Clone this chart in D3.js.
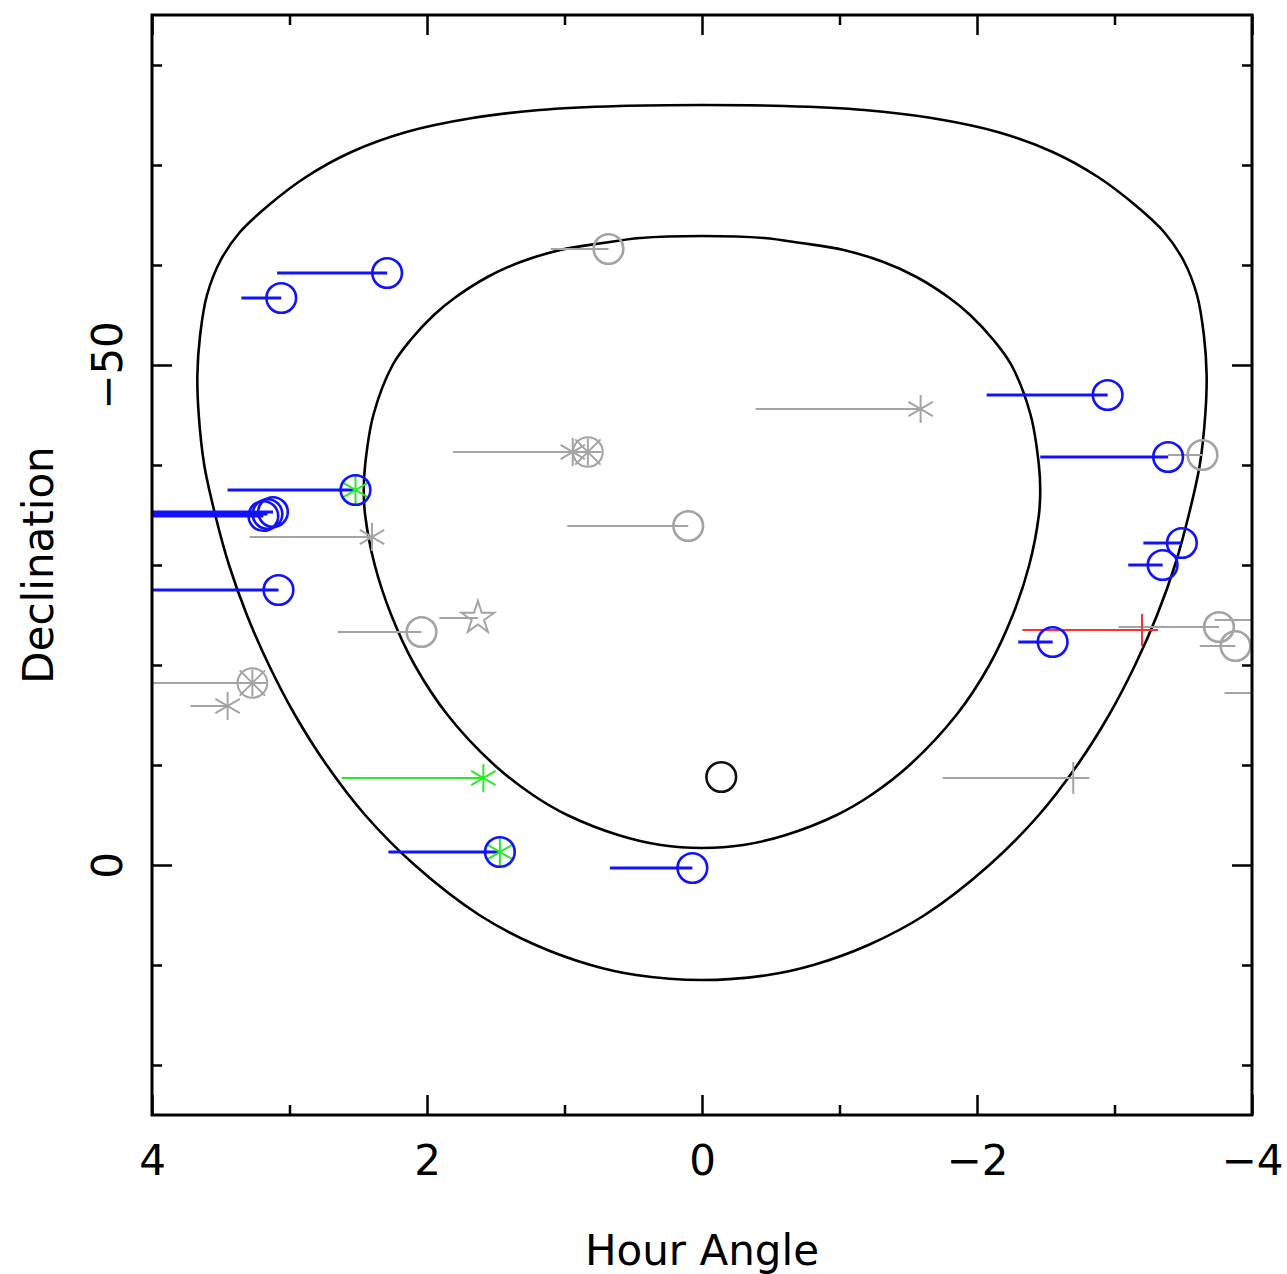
<!DOCTYPE html>
<html>
<head>
<meta charset="utf-8">
<script src="https://cdn.jsdelivr.net/npm/d3@7"></script>
<style>
body { margin: 0; background: #fff; }
text { font-family: "DejaVu Sans", sans-serif; fill: #000; }
</style>
</head>
<body>
<script>
// tick values
var haMajor = [4, 2, 0, -2, -4];
var haMinor = [3, 1, -1, -3];
var decMajor = [-50, 0];
var decMinor = [-80, -70, -60, -40, -30, -20, -10, 10, 20];

// altitude limit curves, [hour angle, declination]
var outerLimit = [
  [0.00, -76.0], [0.60, -75.9], [1.18, -75.5], [1.67, -74.7], [2.15, -73.3], [2.55, -71.3],
  [2.88, -68.8], [3.15, -66.0], [3.36, -63.3], [3.50, -60.5], [3.60, -57.0], [3.65, -53.0],
  [3.67, -49.0], [3.66, -45.0], [3.62, -40.0], [3.54, -35.0], [3.44, -30.0], [3.31, -25.0],
  [3.15, -20.0], [2.96, -15.0], [2.73, -10.0], [2.45, -5.0], [2.09, 0.0], [1.62, 5.0],
  [1.21, 8.0], [0.81, 10.0], [0.48, 11.0], [0.00, 11.5],
  [-0.48, 11.0], [-0.81, 10.0], [-1.21, 8.0], [-1.62, 5.0], [-2.09, 0.0], [-2.45, -5.0],
  [-2.73, -10.0], [-2.96, -15.0], [-3.15, -20.0], [-3.31, -25.0], [-3.44, -30.0],
  [-3.54, -35.0], [-3.62, -40.0], [-3.66, -45.0], [-3.67, -49.0], [-3.65, -53.0],
  [-3.60, -57.0], [-3.50, -60.5], [-3.36, -63.3], [-3.15, -66.0], [-2.88, -68.8],
  [-2.55, -71.3], [-2.15, -73.3], [-1.67, -74.7], [-1.18, -75.5], [-0.60, -75.9]
];
var innerLimit = [
  [0.00, -62.9], [0.45, -62.7], [0.72, -62.2], [1.03, -61.5], [1.32, -60.3], [1.56, -58.8],
  [1.80, -56.7], [1.95, -55.0], [2.12, -52.5], [2.25, -50.0], [2.39, -45.0], [2.45, -40.0],
  [2.46, -37.5], [2.45, -35.0], [2.38, -30.0], [2.26, -25.0], [2.09, -20.0], [1.85, -15.0],
  [1.51, -10.0], [1.23, -7.0], [0.98, -5.0], [0.61, -3.0], [0.30, -2.0], [0.00, -1.7],
  [-0.30, -2.0], [-0.61, -3.0], [-0.98, -5.0], [-1.23, -7.0], [-1.51, -10.0], [-1.85, -15.0],
  [-2.09, -20.0], [-2.26, -25.0], [-2.38, -30.0], [-2.45, -35.0], [-2.46, -37.5],
  [-2.45, -40.0], [-2.39, -45.0], [-2.25, -50.0], [-2.12, -52.5], [-1.95, -55.0],
  [-1.80, -56.7], [-1.56, -58.8], [-1.32, -60.3], [-1.03, -61.5], [-0.72, -62.2],
  [-0.45, -62.7]
];

// tracks: hour angle at start and end, declination, group, marker
var haFrom = [3.09, 3.35, -2.07, -3.39, -2.46, 3.45, 3.45, 4.60, 4.60, 4.60, 3.29, 4.40,
              2.65, 1.91, 4.50, 3.72, 1.81, 0.94, 1.10, 0.98, -0.39, -3.21, -3.10, -3.03,
              -3.62, -3.73, -3.80, -2.30, -2.33, 2.62, 2.28, 2.28, 0.67, -0.14, -1.75];
var haTo   = [2.29, 3.06, -2.95, -3.64, -3.39, 2.52, 2.52, 3.19, 3.16, 3.12, 2.40, 3.08,
              2.04, 1.63, 3.27, 3.45, 0.94, 0.83, 0.68, 0.10, -1.59, -3.49, -3.35, -3.76,
              -3.88, -4.30, -4.40, -2.55, -3.20, 1.59, 1.47, 1.47, 0.07, -0.14, -2.70];
var decl   = [-59.2, -56.7, -47.0, -41.0, -40.8, -37.5, -37.5, -34.9, -35.1, -35.3, -32.8, -27.5,
              -23.3, -24.7, -18.2, -15.9, -41.3, -41.3, -61.6, -33.9, -45.6, -32.2, -30.0, -23.8,
              -21.9, -24.5, -17.2, -22.3, -23.5, -8.7, -1.3, -1.3, 0.3, -8.8, -8.7];
var group  = ["observed", "observed", "observed", "queued", "observed", "new", "observed",
              "observed", "observed", "observed", "queued", "observed", "queued", "queued",
              "queued", "queued", "queued", "queued", "queued", "queued", "queued", "observed",
              "observed", "queued", "queued", "queued", "queued", "observed", "failed", "new",
              "new", "observed", "observed", "field", "queued"];
var marker = ["circle", "circle", "circle", "circle", "circle", "asterisk", "circle",
              "circle", "circle", "circle", "asterisk", "circle", "circle", "star",
              "circast", "asterisk", "asterisk", "circast", "circle", "circle", "asterisk", "circle",
              "circle", "circle", "circle", "circle", "circle", "circle", "plus", "asterisk",
              "asterisk", "circle", "circle", "circle", "plus"];

var tracks = haFrom.map(function(d, i) {
  return {from: d, to: haTo[i], dec: decl[i], group: group[i], marker: marker[i]};
});

var w = 1287, h = 1274;
var plotL = 152, plotR = 1252, plotT = 15, plotB = 1115;

var colour = d3.scaleOrdinal()
  .domain(["observed", "queued", "new", "failed", "field"])
  .range(["#1212ff", "#a4a4a4", "#2be82b", "#ff3030", "#111111"]);
var lineWidth = {observed: 3, queued: 2.2, new: 2.2, failed: 2.2, field: 2.2};

var x = d3.scaleLinear().domain([4, -4]).range([plotL, plotR]);
var y = d3.scaleLinear().domain([-85, 25]).range([plotT, plotB]);

var svg = d3.select("body").append("svg")
  .attr("width", w)
  .attr("height", h);

svg.append("rect").attr("width", w).attr("height", h).attr("fill", "#fff");

svg.append("clipPath").attr("id", "plot")
  .append("rect")
  .attr("x", plotL).attr("y", plotT)
  .attr("width", plotR - plotL).attr("height", plotB - plotT);

var plot = svg.append("g").attr("clip-path", "url(#plot)");

// altitude limits
var limitLine = d3.line()
  .x(function(d) { return x(d[0]); })
  .y(function(d) { return y(d[1]); })
  .curve(d3.curveCatmullRomClosed);

plot.selectAll("path.limit")
  .data([outerLimit, innerLimit])
  .enter()
  .append("path")
  .attr("class", "limit")
  .attr("d", limitLine)
  .attr("fill", "none")
  .attr("stroke", "#000")
  .attr("stroke-width", 2.6);

// tracks
plot.selectAll("line.track")
  .data(tracks.filter(function(d) { return d.from !== d.to; }))
  .enter()
  .append("line")
  .attr("class", "track")
  .attr("x1", function(d) { return x(d.from); })
  .attr("x2", function(d) { return x(d.to); })
  .attr("y1", function(d) { return y(d.dec); })
  .attr("y2", function(d) { return y(d.dec); })
  .attr("stroke", function(d) { return colour(d.group); })
  .attr("stroke-width", function(d) { return lineWidth[d.group]; });

// markers at end of each track
var symbolParts = {
  circle:   [[d3.symbolCircle, 690]],
  asterisk: [[d3.symbolAsterisk, 560]],
  plus:     [[d3.symbolPlus, 340]],
  star:     [[d3.symbolStar, 330]],
  circast:  [[d3.symbolCircle, 690], [d3.symbolPlus, 240], [d3.symbolTimes, 420]]
};

var marks = plot.selectAll("g.mark")
  .data(tracks)
  .enter()
  .append("g")
  .attr("class", "mark")
  .attr("transform", function(d) { return "translate(" + x(d.to) + "," + y(d.dec) + ")"; });

marks.each(function(d) {
  var g = d3.select(this);
  symbolParts[d.marker].forEach(function(p) {
    g.append("path")
      .attr("d", d3.symbol().type(p[0]).size(p[1])())
      .attr("fill", "none")
      .attr("stroke", colour(d.group))
      .attr("stroke-width", d.marker === "circle" ? 2.6 : 2);
  });
});

// axes with inward ticks on all four sides
function tidy(g) {
  g.select(".domain").remove();
  g.selectAll(".tick line").attr("stroke", "#000").attr("stroke-width", 2.5);
}

svg.append("g")
  .attr("transform", "translate(0," + plotB + ")")
  .call(d3.axisBottom(x).tickValues(haMajor).tickSize(-20).tickPadding(0))
  .call(tidy)
  .call(function(g) {
    g.selectAll(".tick text")
      .attr("y", 60).attr("dy", 0)
      .attr("font-size", 42)
      .attr("font-family", "DejaVu Sans, sans-serif");
  });
svg.append("g")
  .attr("transform", "translate(0," + plotB + ")")
  .call(d3.axisBottom(x).tickValues(haMinor).tickSize(-10).tickFormat(""))
  .call(tidy);
svg.append("g")
  .attr("transform", "translate(0," + plotT + ")")
  .call(d3.axisTop(x).tickValues(haMajor).tickSize(-20).tickFormat(""))
  .call(tidy);
svg.append("g")
  .attr("transform", "translate(0," + plotT + ")")
  .call(d3.axisTop(x).tickValues(haMinor).tickSize(-10).tickFormat(""))
  .call(tidy);

svg.append("g")
  .attr("transform", "translate(" + plotL + ",0)")
  .call(d3.axisLeft(y).tickValues(decMajor).tickSize(-20).tickPadding(0))
  .call(tidy)
  .call(function(g) {
    g.selectAll(".tick text")
      .attr("transform", "rotate(-90)")
      .attr("x", 0).attr("y", -30).attr("dy", 0)
      .attr("text-anchor", "middle")
      .attr("font-size", 42)
      .attr("font-family", "DejaVu Sans, sans-serif");
  });
svg.append("g")
  .attr("transform", "translate(" + plotL + ",0)")
  .call(d3.axisLeft(y).tickValues(decMinor).tickSize(-10).tickFormat(""))
  .call(tidy);
svg.append("g")
  .attr("transform", "translate(" + plotR + ",0)")
  .call(d3.axisRight(y).tickValues(decMajor).tickSize(-20).tickFormat(""))
  .call(tidy);
svg.append("g")
  .attr("transform", "translate(" + plotR + ",0)")
  .call(d3.axisRight(y).tickValues(decMinor).tickSize(-10).tickFormat(""))
  .call(tidy);

// frame
svg.append("rect")
  .attr("x", plotL).attr("y", plotT)
  .attr("width", plotR - plotL).attr("height", plotB - plotT)
  .attr("fill", "none")
  .attr("stroke", "#000")
  .attr("stroke-width", 3);

// axis titles
svg.append("text")
  .attr("x", (plotL + plotR) / 2)
  .attr("y", 1265)
  .attr("text-anchor", "middle")
  .attr("font-size", 42)
  .text("Hour Angle");

svg.append("text")
  .attr("transform", "translate(53," + y(-30) + ") rotate(-90)")
  .attr("text-anchor", "middle")
  .attr("font-size", 42)
  .text("Declination");
</script>
</body>
</html>
